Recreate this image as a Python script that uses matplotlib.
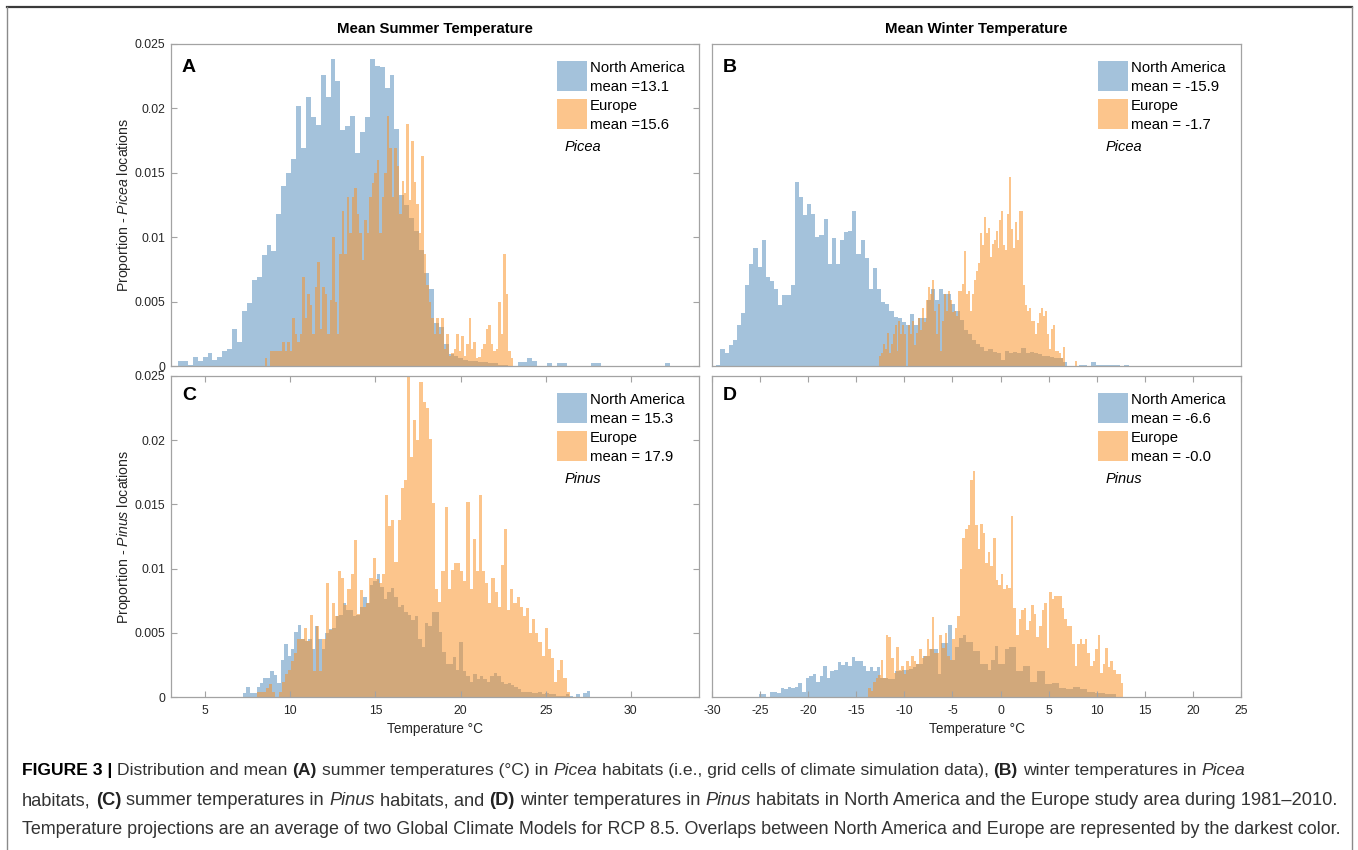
import numpy as np
import matplotlib
matplotlib.use("Agg")
import matplotlib.pyplot as plt
from matplotlib.patches import Rectangle
from matplotlib.lines import Line2D

plt.rcParams['font.family'] = ['Liberation Sans', 'DejaVu Sans']
plt.rcParams['mathtext.fontset'] = 'custom'
plt.rcParams['mathtext.rm'] = 'Liberation Sans'
plt.rcParams['mathtext.it'] = 'Liberation Sans:italic'

# ---------------- data (proportions per bin) ----------------
# Panel A: summer, Picea
naA_range = (3.41, 32.3)
naA = [0.00036,0.00036,0.0001,0.0007,0.00036,0.0007,0.001,0.0005,0.0007,0.0012,
       0.0013,0.0029,0.0019,0.0043,0.0049,0.0067,0.0069,0.0086,0.0094,0.0089,
       0.0118,0.014,0.015,0.0161,0.0202,0.0169,0.0209,0.0193,0.0187,0.0226,
       0.0209,0.0238,0.0221,0.0183,0.0186,0.0194,0.0165,0.0182,0.0193,0.0238,
       0.0233,0.0232,0.0216,0.0226,0.0184,0.0133,0.0125,0.0115,0.0105,0.009,
       0.0072,0.006,0.0033,0.003,0.0017,0.0009,0.0008,0.0006,0.0005,0.0004,
       0.0004,0.0003,0.0003,0.0002,0.0002,0.0001,0.0001,0,0,0.0003,
       0.0003,0.00065,0.0004,0,0,0.0002,0,0.0002,0.0002,0,
       0,0,0,0,0.0002,0.0002,0,0,0,0,
       0,0,0,0,0,0,0,0,0,0.0002]
euA_range = (8.52, 23.09)
euA = [0.0006,0.0,0.0012,0.0012,0.0012,0.0012,0.0012,0.0019,0.0012,0.0019,
       0.0012,0.0037,0.0025,0.0019,0.0025,0.0069,0.0037,0.0056,0.0047,0.0025,
       0.0061,0.0081,0.0029,0.0061,0.0056,0.0025,0.0051,0.01,0.005,0.0025,
       0.0087,0.012,0.0087,0.0131,0.0103,0.0131,0.0138,0.0118,0.0103,0.0082,
       0.0113,0.0103,0.0131,0.0142,0.015,0.016,0.0103,0.0131,0.015,0.0194,
       0.0169,0.0131,0.0169,0.0155,0.0118,0.0144,0.0134,0.0188,0.0129,0.0175,
       0.0143,0.0126,0.0103,0.0163,0.0087,0.0063,0.005,0.0037,0.0025,0.0037,
       0.0025,0.0037,0.0013,0.0025,0.0008,0.001,0.0013,0.0025,0.0012,0.0023,
       0.0008,0.0017,0.0037,0.0013,0.0019,0.0006,0.0007,0.0013,0.0017,0.0029,
       0.0032,0.0017,0.0012,0.0013,0.005,0.0025,0.0087,0.0056,0.0012,0.0006]

# Panel B: winter, Picea
naB_range = (-29.55, 13.31)
naB = [0.0001,0.0013,0.001,0.0016,0.002,0.0032,0.0041,0.0063,0.0079,0.0092,
       0.0077,0.0098,0.0069,0.0066,0.006,0.0047,0.0055,0.0055,0.0063,0.0143,
       0.0131,0.0117,0.0126,0.0118,0.01,0.0102,0.0114,0.0079,0.0099,0.0079,
       0.0098,0.0104,0.0105,0.012,0.0087,0.0098,0.0084,0.006,0.0076,0.006,
       0.005,0.0048,0.0043,0.0038,0.0037,0.0034,0.0032,0.004,0.0032,0.0037,
       0.0037,0.0051,0.006,0.0051,0.006,0.0056,0.0056,0.0048,0.0043,0.0036,
       0.0028,0.0025,0.002,0.0017,0.0015,0.0012,0.0013,0.0011,0.001,0.0005,
       0.0012,0.001,0.0011,0.001,0.0014,0.001,0.0011,0.001,0.0009,0.0008,
       0.0008,0.0007,0.0006,0.0006,0.0003,0,0,0,0.0001,0.0001,
       0,0.0003,0.0001,0.0001,0.00005,0.0001,0.00005,0.0001,0,0.0001]
euB_range = (-12.67, 7.92)
euB = [0.0008,0.001,0.0017,0.0013,0.0026,0.001,0.0017,0.0025,0.0032,0.0012,
       0.0035,0.0025,0.0032,0.0025,0,0.0032,0.0025,0.0035,0.0016,0.0026,
       0.0037,0.0028,0.0045,0.0034,0.0051,0.0061,0.0056,0.0067,0.0043,0.0025,
       0.0048,0.0012,0.0035,0.0056,0.0043,0.0058,0.0051,0.0042,0.0043,0.0039,
       0.0058,0.0058,0.0064,0.0089,0.0056,0.0058,0.0043,0.0056,0.0067,0.0074,
       0.008,0.0103,0.0094,0.0116,0.0103,0.0107,0.0085,0.0095,0.0098,0.0105,
       0.0092,0.0113,0.012,0.0094,0.009,0.0118,0.0147,0.0106,0.0092,0.0112,
       0.0098,0.012,0.012,0.0063,0.0047,0.0043,0.0045,0.0035,0.0035,0.0025,
       0.0033,0.0041,0.0045,0.0039,0.0043,0.0025,0.0013,0.0029,0.0032,0.0012,
       0.0012,0.001,0.0006,0.0015,0,0,0,0,0,0.0004]

# Panel C: summer, Pinus
naC_range = (7.22, 27.6)
naC = [0.0003,0.0008,0.0003,0.0003,0.0008,0.0011,0.0015,0.0015,0.002,0.0017,
       0.0011,0.0029,0.0041,0.0032,0.0037,0.0051,0.0056,0.0045,0.0044,0.0045,
       0.0037,0.0055,0.0045,0.0037,0.005,0.0053,0.0054,0.0063,0.0064,0.0073,
       0.0068,0.0068,0.0063,0.0064,0.007,0.0078,0.0073,0.0087,0.009,0.0096,
       0.0086,0.0076,0.0082,0.0085,0.0078,0.007,0.0072,0.0066,0.0064,0.006,
       0.0063,0.0045,0.0039,0.0058,0.0055,0.0066,0.0066,0.0051,0.0035,0.0026,
       0.0026,0.0031,0.0021,0.0043,0.002,0.0016,0.0012,0.0018,0.0014,0.0016,
       0.0014,0.0012,0.0016,0.0019,0.0016,0.0012,0.001,0.0011,0.0009,0.0008,
       0.0006,0.0004,0.0004,0.0004,0.0003,0.0003,0.0004,0.0002,0.0003,0.0002,
       0.0002,0.0001,0.0001,0.0001,0.0002,0.0001,0,0.0002,0,0.0003,
       0.0005]
euC_range = (8.03, 26.41)
euC = [0.0004,0.0004,0.0004,0.0007,0.001,0.0004,0,0.0004,0.0012,0.0018,
       0.0021,0.0028,0.0034,0.0045,0.0045,0.0054,0.0044,0.0064,0.002,0.0055,
       0.002,0.0045,0.0089,0.0052,0.0073,0.0063,0.0098,0.0093,0.0072,0.0084,
       0.0096,0.0122,0.0065,0.0083,0.007,0.0073,0.0093,0.0108,0.0092,0.0089,
       0.0096,0.0157,0.0133,0.0138,0.0105,0.0138,0.0163,0.0169,0.025,0.0187,
       0.0216,0.02,0.0245,0.023,0.0225,0.0201,0.0151,0.0084,0.0074,0.0098,
       0.0148,0.0084,0.0099,0.0104,0.0104,0.0098,0.009,0.0152,0.0084,0.0123,
       0.0098,0.0157,0.0098,0.0089,0.0073,0.0093,0.0082,0.007,0.0103,0.0131,
       0.0068,0.0084,0.0073,0.0078,0.007,0.0063,0.0069,0.005,0.0061,0.005,
       0.0043,0.0032,0.0054,0.0037,0.003,0.0012,0.0021,0.0029,0.0015,0.0004]

# Panel D: winter, Pinus
naD_range = (-25.1, 12.0)
naD = [0.0002,0.0002,0,0.0004,0.0004,0.0003,0.0007,0.0006,0.0008,0.0007,
       0.0008,0.0011,0.0004,0.0015,0.0016,0.0018,0.0012,0.0016,0.0024,0.0015,
       0.002,0.0021,0.0027,0.0025,0.0027,0.0024,0.0031,0.0028,0.0028,0.0024,
       0.002,0.0023,0.002,0.0023,0.0015,0.0015,0.0014,0.0014,0.002,0.002,
       0.0021,0.0021,0.0022,0.0023,0.0026,0.0026,0.0032,0.0032,0.0037,0.0037,
       0.0018,0.0042,0.0042,0.0056,0.0029,0.0039,0.0046,0.0048,0.0043,0.0043,
       0.0036,0.0036,0.0026,0.0026,0.0021,0.0029,0.004,0.0026,0.0026,0.0037,
       0.0039,0.0039,0.002,0.002,0.0024,0.0024,0.0012,0.0012,0.002,0.002,
       0.001,0.001,0.0011,0.0011,0.0007,0.0007,0.0006,0.0006,0.0008,0.0008,
       0.0006,0.0006,0.0004,0.0004,0.0003,0.0003,0.0003,0.0002,0.0002,0.0002]
euD_range = (-13.78, 12.75)
euD = [0.0007,0.00044,0.0012,0.0015,0.0017,0.0029,0.0015,0.0048,0.0047,0.003,
       0.0019,0.0039,0.0021,0.0024,0.0018,0.0028,0.0024,0.0032,0.0028,0.0026,
       0.0037,0.003,0.0032,0.0045,0.0037,0.0062,0.0034,0.0034,0.0048,0.0038,
       0.005,0.0032,0.0029,0.0045,0.0054,0.0063,0.01,0.0124,0.0131,0.0134,
       0.0169,0.0176,0.0134,0.0115,0.0135,0.0128,0.0104,0.0113,0.0102,0.0124,
       0.0091,0.0087,0.0096,0.0084,0.0087,0.0085,0.0141,0.0069,0.0048,0.0061,
       0.0068,0.0069,0.0052,0.0059,0.0072,0.0065,0.0047,0.0055,0.0068,0.0073,
       0.0038,0.0082,0.0076,0.0079,0.0079,0.0079,0.0069,0.0061,0.0055,0.0055,
       0.0041,0.0024,0.0041,0.0045,0.0041,0.0045,0.0034,0.0024,0.0028,0.0037,
       0.0048,0.0019,0.0026,0.0038,0.0023,0.0028,0.0021,0.0018,0.0018,0.0011]

panel_letters = ['A', 'B', 'C', 'D']
means_na = ['mean =13.1', 'mean = -15.9', 'mean = 15.3', 'mean = -6.6']
means_eu = ['mean =15.6', 'mean = -1.7', 'mean = 17.9', 'mean = -0.0']
genus = ['Picea', 'Picea', 'Pinus', 'Pinus']
col_titles = ['Mean Summer Temperature', 'Mean Winter Temperature']
summer_xticks = [5, 10, 15, 20, 25, 30]
winter_xticks = [-30, -25, -20, -15, -10, -5, 0, 5, 10, 15, 20, 25]
yticks = [0, 0.005, 0.01, 0.015, 0.02, 0.025]
ytick_labels = ['0', '0.005', '0.01', '0.015', '0.02', '0.025']

# ---------------- styling ----------------
W, H = 1358, 850
BLUE = (164/255, 194/255, 219/255)
ORANGE = (251/255, 146/255, 38/255)
ORANGE_ALPHA = 0.53
SPINE = '#a3a3a3'
TXT = '#262626'

fig = plt.figure(figsize=(W/100, H/100), dpi=100)

def rect(l, t, r, b):
    return [l/W, 1-b/H, (r-l)/W, (b-t)/H]

boxes = [(171, 44, 699, 366), (712, 44, 1241, 366),
         (171, 376, 699, 697), (712, 376, 1241, 697)]
axes = [fig.add_axes(rect(*b)) for b in boxes]

data = [(naA, naA_range, euA, euA_range), (naB, naB_range, euB, euB_range),
        (naC, naC_range, euC, euC_range), (naD, naD_range, euD, euD_range)]
letter_dy = [23, 23, 19, 19]

for i, ax in enumerate(axes):
    na, nar, eu, eur = data[i]
    e1 = np.linspace(nar[0], nar[1], len(na) + 1)
    e2 = np.linspace(eur[0], eur[1], len(eu) + 1)
    ax.stairs(na, e1, fill=True, color=BLUE, linewidth=0)
    ax.stairs(eu, e2, fill=True, color=ORANGE, alpha=ORANGE_ALPHA, linewidth=0)
    summer = (i % 2 == 0)
    ax.set_xlim(3, 34) if summer else ax.set_xlim(-30, 25)
    ax.set_ylim(0, 0.025)
    for s in ax.spines.values():
        s.set_color(SPINE)
        s.set_linewidth(0.9)
    ax.tick_params(direction='in', length=4, width=0.8, color=SPINE,
                   labelcolor=TXT, labelsize=8.8, top=True, right=True, pad=4)
    if summer:
        ax.set_yticks(yticks)
        ax.set_yticklabels(ytick_labels)
    else:
        ax.set_yticks([])
    if i >= 2:
        ax.set_xticks(summer_xticks if summer else winter_xticks)
        ax.set_xticklabels([str(v) for v in (summer_xticks if summer else winter_xticks)])
        ax.tick_params(axis='x', pad=6)
        ax.set_xlabel('Temperature °C', fontsize=9.8, color=TXT, labelpad=3)
    else:
        ax.set_xticks([])
    if i == 0:
        ax.set_ylabel(r'Proportion - $\mathit{Picea}$ locations', fontsize=10.2, color=TXT, labelpad=1.5)
    if i == 2:
        ax.set_ylabel(r'Proportion - $\mathit{Pinus}$ locations', fontsize=10.2, color=TXT, labelpad=1.5)

    l, t, r, b = boxes[i]
    aw, ah = r - l, b - t
    fx = lambda dx: dx / aw
    fy = lambda dy: 1 - dy / ah
    ax.text(fx(11), fy(letter_dy[i]), panel_letters[i], transform=ax.transAxes,
            fontsize=14, fontweight='bold', va='center', ha='left', color='black')
    # legend
    ax.add_patch(Rectangle((fx(386), fy(47)), 30/aw, 30/ah, transform=ax.transAxes,
                           facecolor=BLUE, edgecolor='none', clip_on=False))
    ax.add_patch(Rectangle((fx(386), fy(85)), 30/aw, 30/ah, transform=ax.transAxes,
                           facecolor=ORANGE, alpha=ORANGE_ALPHA, edgecolor='none', clip_on=False))
    lx = fx(419)
    for dy, s in zip([24, 43, 62, 81], ['North America', means_na[i], 'Europe', means_eu[i]]):
        ax.text(lx, fy(dy), s, transform=ax.transAxes, fontsize=10.7, va='center',
                ha='left', color='black')
    ax.text(fx(394), fy(103), genus[i], transform=ax.transAxes, fontsize=10.5,
            style='italic', va='center', ha='left', color='black')

fig.text(435/W, 1-29/H, col_titles[0], ha='center', va='center', fontsize=10.8,
         fontweight='bold', color='black')
fig.text(976.5/W, 1-29/H, col_titles[1], ha='center', va='center', fontsize=10.8,
         fontweight='bold', color='black')

# frame
fig.add_artist(Line2D([7/W, 1352/W], [1-7/H, 1-7/H], transform=fig.transFigure,
                      color='#3a3a3a', linewidth=1.6))
fig.add_artist(Line2D([7/W, 7/W], [0, 1-7/H], transform=fig.transFigure,
                      color='#8a8a8a', linewidth=1.0))
fig.add_artist(Line2D([1352/W, 1352/W], [0, 1-7/H], transform=fig.transFigure,
                      color='#8a8a8a', linewidth=1.0))

# caption (rich text)
cap_family = ['Liberation Sans', 'DejaVu Sans']
renderer = fig.canvas.get_renderer()

def measure(s, **kw):
    t = fig.text(0, 0, s, family=cap_family, **kw)
    w = t.get_window_extent(renderer).width
    t.remove()
    return w

cap_lines = [
    [("FIGURE 3 |", 'bold', 'normal', 'black'), (" Distribution and mean ", 'normal', 'normal', '#333333'),
     ("(A)", 'bold', 'normal', '#222222'), (" summer temperatures (°C) in ", 'normal', 'normal', '#333333'),
     ("Picea", 'normal', 'italic', '#333333'),
     (" habitats (i.e., grid cells of climate simulation data), ", 'normal', 'normal', '#333333'),
     ("(B)", 'bold', 'normal', '#222222'), (" winter temperatures in ", 'normal', 'normal', '#333333'),
     ("Picea", 'normal', 'italic', '#333333')],
    [("habitats, ", 'normal', 'normal', '#333333'), ("(C)", 'bold', 'normal', '#222222'),
     (" summer temperatures in ", 'normal', 'normal', '#333333'), ("Pinus", 'normal', 'italic', '#333333'),
     (" habitats, and ", 'normal', 'normal', '#333333'), ("(D)", 'bold', 'normal', '#222222'),
     (" winter temperatures in ", 'normal', 'normal', '#333333'), ("Pinus", 'normal', 'italic', '#333333'),
     (" habitats in North America and the Europe study area during 1981–2010.", 'normal', 'normal', '#333333')],
    [("Temperature projections are an average of two Global Climate Models for RCP 8.5. "
      "Overlaps between North America and Europe are represented by the darkest color.",
      'normal', 'normal', '#333333')],
]
cap_baseline = [775, 805, 834]
cap_right = [1242, 1340, 1345]
cap_left = 22.0

def layout_width(line, fs):
    sw = measure('x x', fontsize=fs) - measure('xx', fontsize=fs)
    x = 0.0
    for s, wt, st, c in line:
        lead = len(s) - len(s.lstrip(' '))
        trail = len(s) - len(s.rstrip(' '))
        x += (lead + trail) * sw
        x += measure(s.strip(' '), fontsize=fs, fontweight=wt, style=st)
    return x

base_fs = 10 * (cap_right[2] - cap_left) / measure(cap_lines[2][0][0], fontsize=10)

for line, yb, xr in zip(cap_lines, cap_baseline, cap_right):
    w0 = layout_width(line, base_fs)
    fs = base_fs * (xr - cap_left) / w0
    fs = min(max(fs, base_fs * 0.97), base_fs * 1.03)
    sw = measure('x x', fontsize=fs) - measure('xx', fontsize=fs)
    x = cap_left
    for s, wt, st, c in line:
        lead = len(s) - len(s.lstrip(' '))
        trail = len(s) - len(s.rstrip(' '))
        x += lead * sw
        t = fig.text(x/W, 1-yb/H, s.strip(' '), family=cap_family, fontsize=fs,
                     fontweight=wt, style=st, color=c, ha='left', va='baseline')
        x += t.get_window_extent(renderer).width
        x += trail * sw

fig.savefig('out.png', dpi=100)
